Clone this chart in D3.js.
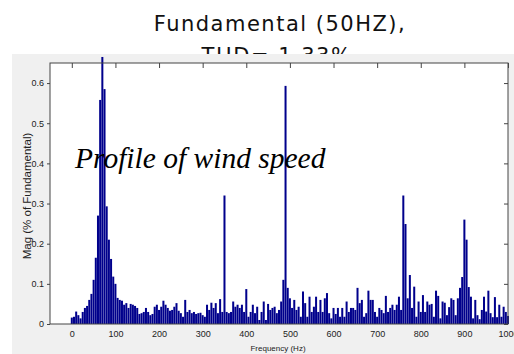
<!DOCTYPE html>
<html>
<head>
<meta charset="utf-8">
<script src="https://cdn.jsdelivr.net/npm/d3@7"></script>
<style>
  body { margin: 0; background: #fff; }
  svg { display: block; }
</style>
</head>
<body>
<div id="chart-area"></div>
<script>
// FFT bins every 5 Hz, 0..1000 Hz
let freqs = d3.range(0, 1001, 5);

// Mag (% of Fundamental), one row per 50 Hz
let mag = [
	.016,.018,.031,.022,.014,.03,.04,.045,.06,.075,
	.11,.165,.27,.558,.665,.585,.293,.21,.162,.118,
	.10,.065,.06,.058,.048,.052,.04,.05,.048,.045,
	.04,.025,.027,.03,.04,.03,.022,.025,.043,.048,
	.035,.043,.058,.048,.04,.033,.035,.043,.052,.033,
	.027,.018,.06,.03,.035,.027,.03,.025,.027,.028,
	.022,.018,.048,.035,.053,.04,.052,.027,.062,.03,
	.32,.03,.027,.03,.056,.043,.048,.04,.048,.03,
	.087,.018,.03,.048,.027,.043,.01,.03,.056,.01,
	.05,.035,.04,.043,.027,.035,.056,.11,.593,.09,
	.064,.04,.06,.035,.043,.018,.081,.052,.018,.068,
	.03,.043,.068,.03,.06,.03,.064,.077,.027,.014,
	.04,.025,.04,.018,.04,.018,.056,.03,.04,.04,
	.035,.09,.052,.06,.018,.027,.083,.06,.06,.03,
	.018,.04,.035,.027,.07,.03,.04,.048,.035,.048,
	.068,.035,.32,.249,.064,.122,.04,.093,.018,.056,
	.03,.072,.03,.056,.048,.05,.018,.083,.07,.014,
	.056,.053,.022,.042,.064,.06,.022,.064,.09,.117,
	.26,.21,.092,.068,.014,.06,.022,.012,.035,.068,
	.031,.083,.027,.017,.067,.017,.048,.018,.043,.03,
	.02
];

let xTicks = [0, 100, 200, 300, 400, 500, 600, 700, 800, 900, 1000];
let yTicks = [0, 0.1, 0.2, 0.3, 0.4, 0.5, 0.6];
let yTickLabels = ["0", "0.1", "0.2", "0.3", "0.4", "0.5", "0.6"];

let data = freqs.map((f, i) => ({freq: f, mag: mag[i]}));

let W = 514, H = 354;
let margin = {top: 63, right: 6, bottom: 30, left: 50};
let width = W - margin.left - margin.right,
	height = H - margin.top - margin.bottom;

let svgRoot = d3.select("#chart-area").append("svg")
	.attr("width", W)
	.attr("height", H);

// title (second line sits partly behind the grey figure panel)
let title = svgRoot.append("g")
	.attr("font-family", "DejaVu Sans, Verdana, sans-serif")
	.attr("font-size", 21)
	.attr("fill", "#111")
	.attr("text-anchor", "middle");
title.append("text").attr("x", 280).attr("y", 31)
	.attr("letter-spacing", 1.5)
	.text("Fundamental (50HZ),");
title.append("text").attr("x", 277).attr("y", 63)
	.attr("letter-spacing", 1.5)
	.text("THD= 1.33%");

// grey figure background
svgRoot.append("rect")
	.attr("x", 12).attr("y", 54)
	.attr("width", W - 12).attr("height", H - 54)
	.attr("fill", "#f0f0f0");

let svg = svgRoot.append("g")
	.attr("transform", "translate(" + margin.left + "," + margin.top + ")");

let x = d3.scaleLinear().domain([-50, 1000]).range([0, width]);
let y = d3.scaleLinear().domain([0, 0.65]).range([height, 0]);

svg.append("rect")
	.attr("width", width).attr("height", height)
	.attr("fill", "#fff");

let barW = (x(5) - x(0)) * 0.92;

svg.selectAll(".bar").data(data)
	.enter().append("rect")
	.attr("class", "bar")
	.attr("x", d => x(d.freq) - barW / 2)
	.attr("y", d => y(d.mag))
	.attr("width", barW)
	.attr("height", d => height - y(d.mag))
	.attr("fill", "#00008c");

// axes, matlab style
let tickFont = "Liberation Sans, Arial, sans-serif";

let xAxis = svg.append("g")
	.attr("transform", "translate(0," + height + ")")
	.call(d3.axisBottom(x).tickValues(xTicks).tickSize(0).tickPadding(7)
		.tickFormat(d => String(d)));

let xTop = svg.append("g")
	.call(d3.axisTop(x).tickValues(xTicks).tickSize(-5).tickFormat(""));

let yAxis = svg.append("g")
	.call(d3.axisLeft(y).tickValues(yTicks).tickSize(3).tickPadding(3)
		.tickFormat((d, i) => yTickLabels[i]));

let yRight = svg.append("g")
	.attr("transform", "translate(" + width + ",0)")
	.call(d3.axisRight(y).tickValues(yTicks).tickSize(-4).tickFormat(""));

svg.selectAll(".domain").remove();
svg.selectAll(".tick line").attr("stroke", "#444");
svg.selectAll(".tick text")
	.attr("font-family", tickFont)
	.attr("font-size", 9)
	.attr("fill", "#222");

svg.append("rect")
	.attr("width", width).attr("height", height)
	.attr("fill", "none")
	.attr("stroke", "#444")
	.attr("stroke-width", 1);

// axis labels
svgRoot.append("text")
	.attr("x", 278).attr("y", 351)
	.attr("text-anchor", "middle")
	.attr("font-family", tickFont)
	.attr("font-size", 8)
	.attr("fill", "#222")
	.text("Frequency (Hz)");

svgRoot.append("text")
	.attr("transform", "translate(31,196) rotate(-90)")
	.attr("text-anchor", "middle")
	.attr("font-family", tickFont)
	.attr("font-size", 11.5)
	.attr("fill", "#222")
	.text("Mag (% of Fundamental)");

// annotation
svgRoot.append("text")
	.attr("x", 75).attr("y", 168)
	.attr("font-family", "Liberation Serif, Times New Roman, serif")
	.attr("font-style", "italic")
	.attr("font-size", 29.5)
	.attr("fill", "#000")
	.text("Profile of wind speed");
</script>
</body>
</html>
